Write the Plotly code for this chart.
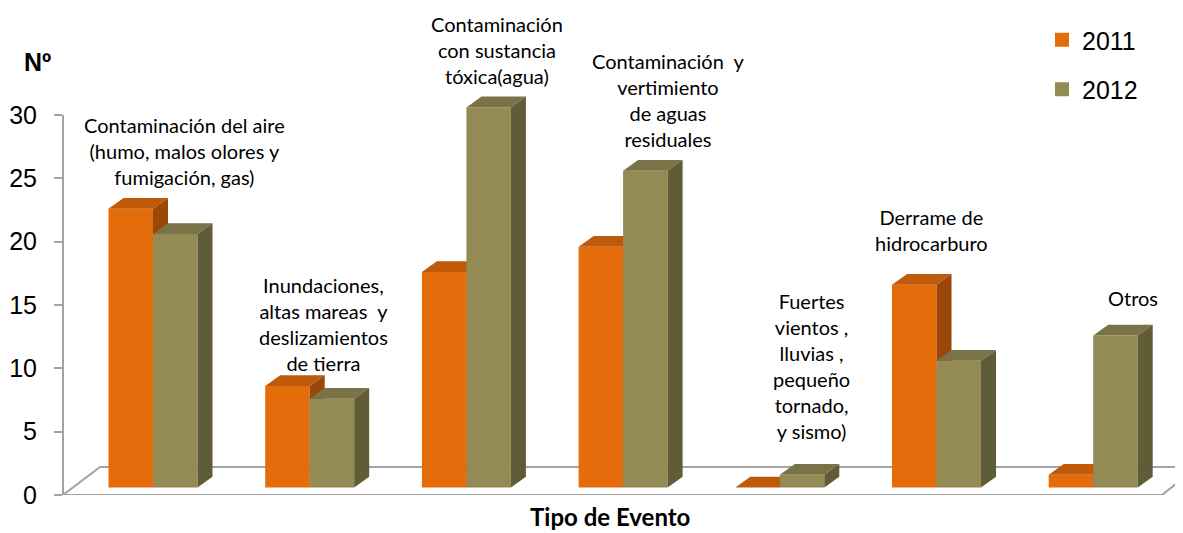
import plotly.graph_objects as go

# ---------------- data ----------------
categories = [
    "Contaminación del aire<br>(humo, malos olores y<br>fumigación, gas)",
    "Inundaciones,<br>altas mareas  y<br>deslizamientos<br>de tierra",
    "Contaminación<br>con sustancia<br>tóxica(agua)",
    "Contaminación  y<br>vertimiento<br>de aguas<br>residuales",
    "Fuertes<br>vientos ,<br>lluvias ,<br>pequeño<br>tornado,<br>y sismo)",
    "Derrame de<br>hidrocarburo",
    "Otros",
]
series_names = ["2011", "2012"]
values_2011 = [22, 8, 17, 19, 0, 16, 1]
values_2012 = [20, 7, 30, 25, 1, 10, 12]
y_ticks = [0, 5, 10, 15, 20, 25, 30]

# ---------------- styling / geometry ----------------
PAGE_OFF = 8                      # default body margin of the html page
W, H = 1183 - PAGE_OFF, 533 - PAGE_OFF
ML, MR, MT, MB = 63 - PAGE_OFF, 0, 0, 38
PX_X = 156.7                      # pixels per category
PX_Y = 12.667                     # pixels per value unit
plot_w = W - ML - MR
plot_h = H - MT - MB
x_min = -90 / PX_X
x_max = x_min + plot_w / PX_X
y_max = plot_h / PX_Y
Y0_SCREEN = PAGE_OFF + MT + plot_h  # screen pixel of value 0

BAR_W = 0.284
DX = 15 / PX_X
DY = 0.85
BASE = 0.6

colors = {
    "2011": ("#E46C0A", "#BF5A0B", "#9B4709"),
    "2012": ("#948A54", "#7A7347", "#615C38"),
}

label_dx = [0.204, 0.089, 0.198, 0.287, 0.204, -0.032, 0.255]
label_ypx = [151, 324, 50, 100, 366, 230, 298]

fig = go.Figure()

def faces(vals, side):
    fx, fy, tx, ty, sx, sy = [], [], [], [], [], []
    for i, v in enumerate(vals):
        x0 = i - BAR_W if side == 0 else i
        x1 = x0 + BAR_W
        b = BASE
        t = BASE + v
        fx += [x0, x1, x1, x0, x0, None]
        fy += [b, b, t, t, b, None]
        tx += [x0, x1, x1 + DX, x0 + DX, x0, None]
        ty += [t, t, t + DY, t + DY, t, None]
        sx += [x1, x1 + DX, x1 + DX, x1, x1, None]
        sy += [b, b + DY, t + DY, t, b, None]
    return (fx, fy), (tx, ty), (sx, sy)

for s, (name, vals) in enumerate(zip(series_names, [values_2011, values_2012])):
    front, top, sidef = faces(vals, s)
    for (xs, ys), col in zip([front, top, sidef], colors[name]):
        fig.add_trace(go.Scatter(
            x=xs, y=ys, mode="lines", fill="toself", fillcolor=col,
            line=dict(width=0, color=col), hoverinfo="skip", showlegend=False,
        ))

# legend entries
for name in series_names:
    fig.add_trace(go.Scatter(
        x=[None], y=[None], mode="markers", name=name, legendgroup=name,
        marker=dict(symbol="square", size=14, color=colors[name][0]),
    ))

# screen-pixel helpers (reference picture coordinates)
def px(p):
    return (p - PAGE_OFF - ML) / plot_w

def py(p):
    return 1 - (p - PAGE_OFF - MT) / plot_h

floor_back = (Y0_SCREEN - 467) / PX_Y
floor_path = (f"M {px(63)},0 L {px(100)},{floor_back} L {px(1197)},{floor_back} "
              f"L {px(1162)},0 Z")
fig.add_shape(type="path", path=floor_path, xref="paper", yref="y",
              line=dict(color="#A3A3A3", width=2), fillcolor="rgba(0,0,0,0)",
              layer="below")
fig.add_shape(type="line", xref="paper", yref="y", x0=0, x1=0, y0=0, y1=max(y_ticks),
              line=dict(color="#A3A3A3", width=2), layer="below")

# category labels
for i, txt in enumerate(categories):
    fig.add_annotation(
        x=i + label_dx[i], y=(Y0_SCREEN - label_ypx[i]) / PX_Y, xref="x", yref="y",
        text=txt, showarrow=False, xanchor="center", yanchor="middle",
        align="center", font=dict(family="Lato, Carlito, Calibri, sans-serif",
                                  size=20, color="#000000"),
    )

# axis titles
fig.add_annotation(x=px(37), y=py(62), xref="paper", yref="paper",
                   text="<b>Nº</b>", showarrow=False, xanchor="center", yanchor="middle",
                   font=dict(family="Arial, Liberation Sans, sans-serif", size=25, color="#000"))
fig.add_annotation(x=px(610), y=py(517), xref="paper", yref="paper",
                   text="<b>Tipo de Evento</b>", showarrow=False, xanchor="center",
                   yanchor="middle",
                   font=dict(family="Lato, Carlito, Calibri, sans-serif", size=24, color="#000"))

fig.update_layout(
    width=W, height=H,
    margin=dict(l=ML, r=MR, t=MT, b=MB),
    paper_bgcolor="white", plot_bgcolor="white",
    showlegend=True,
    legend=dict(x=px(1042), y=py(17), xanchor="left", yanchor="top",
                font=dict(family="Arial, Liberation Sans, sans-serif", size=25, color="#000"),
                tracegroupgap=14, bgcolor="rgba(0,0,0,0)"),
    xaxis=dict(range=[x_min, x_max], visible=False, fixedrange=True),
    yaxis=dict(range=[0, y_max], tickvals=y_ticks, ticktext=[str(v) for v in y_ticks],
               ticks="outside", ticklen=8, tickcolor="#A3A3A3", tickwidth=2,
               showgrid=False, zeroline=False, showline=False,
               ticklabelstandoff=12,
               tickfont=dict(family="Arial, Liberation Sans, sans-serif", size=25, color="#000")),
)

fig.write_html("out.html")
